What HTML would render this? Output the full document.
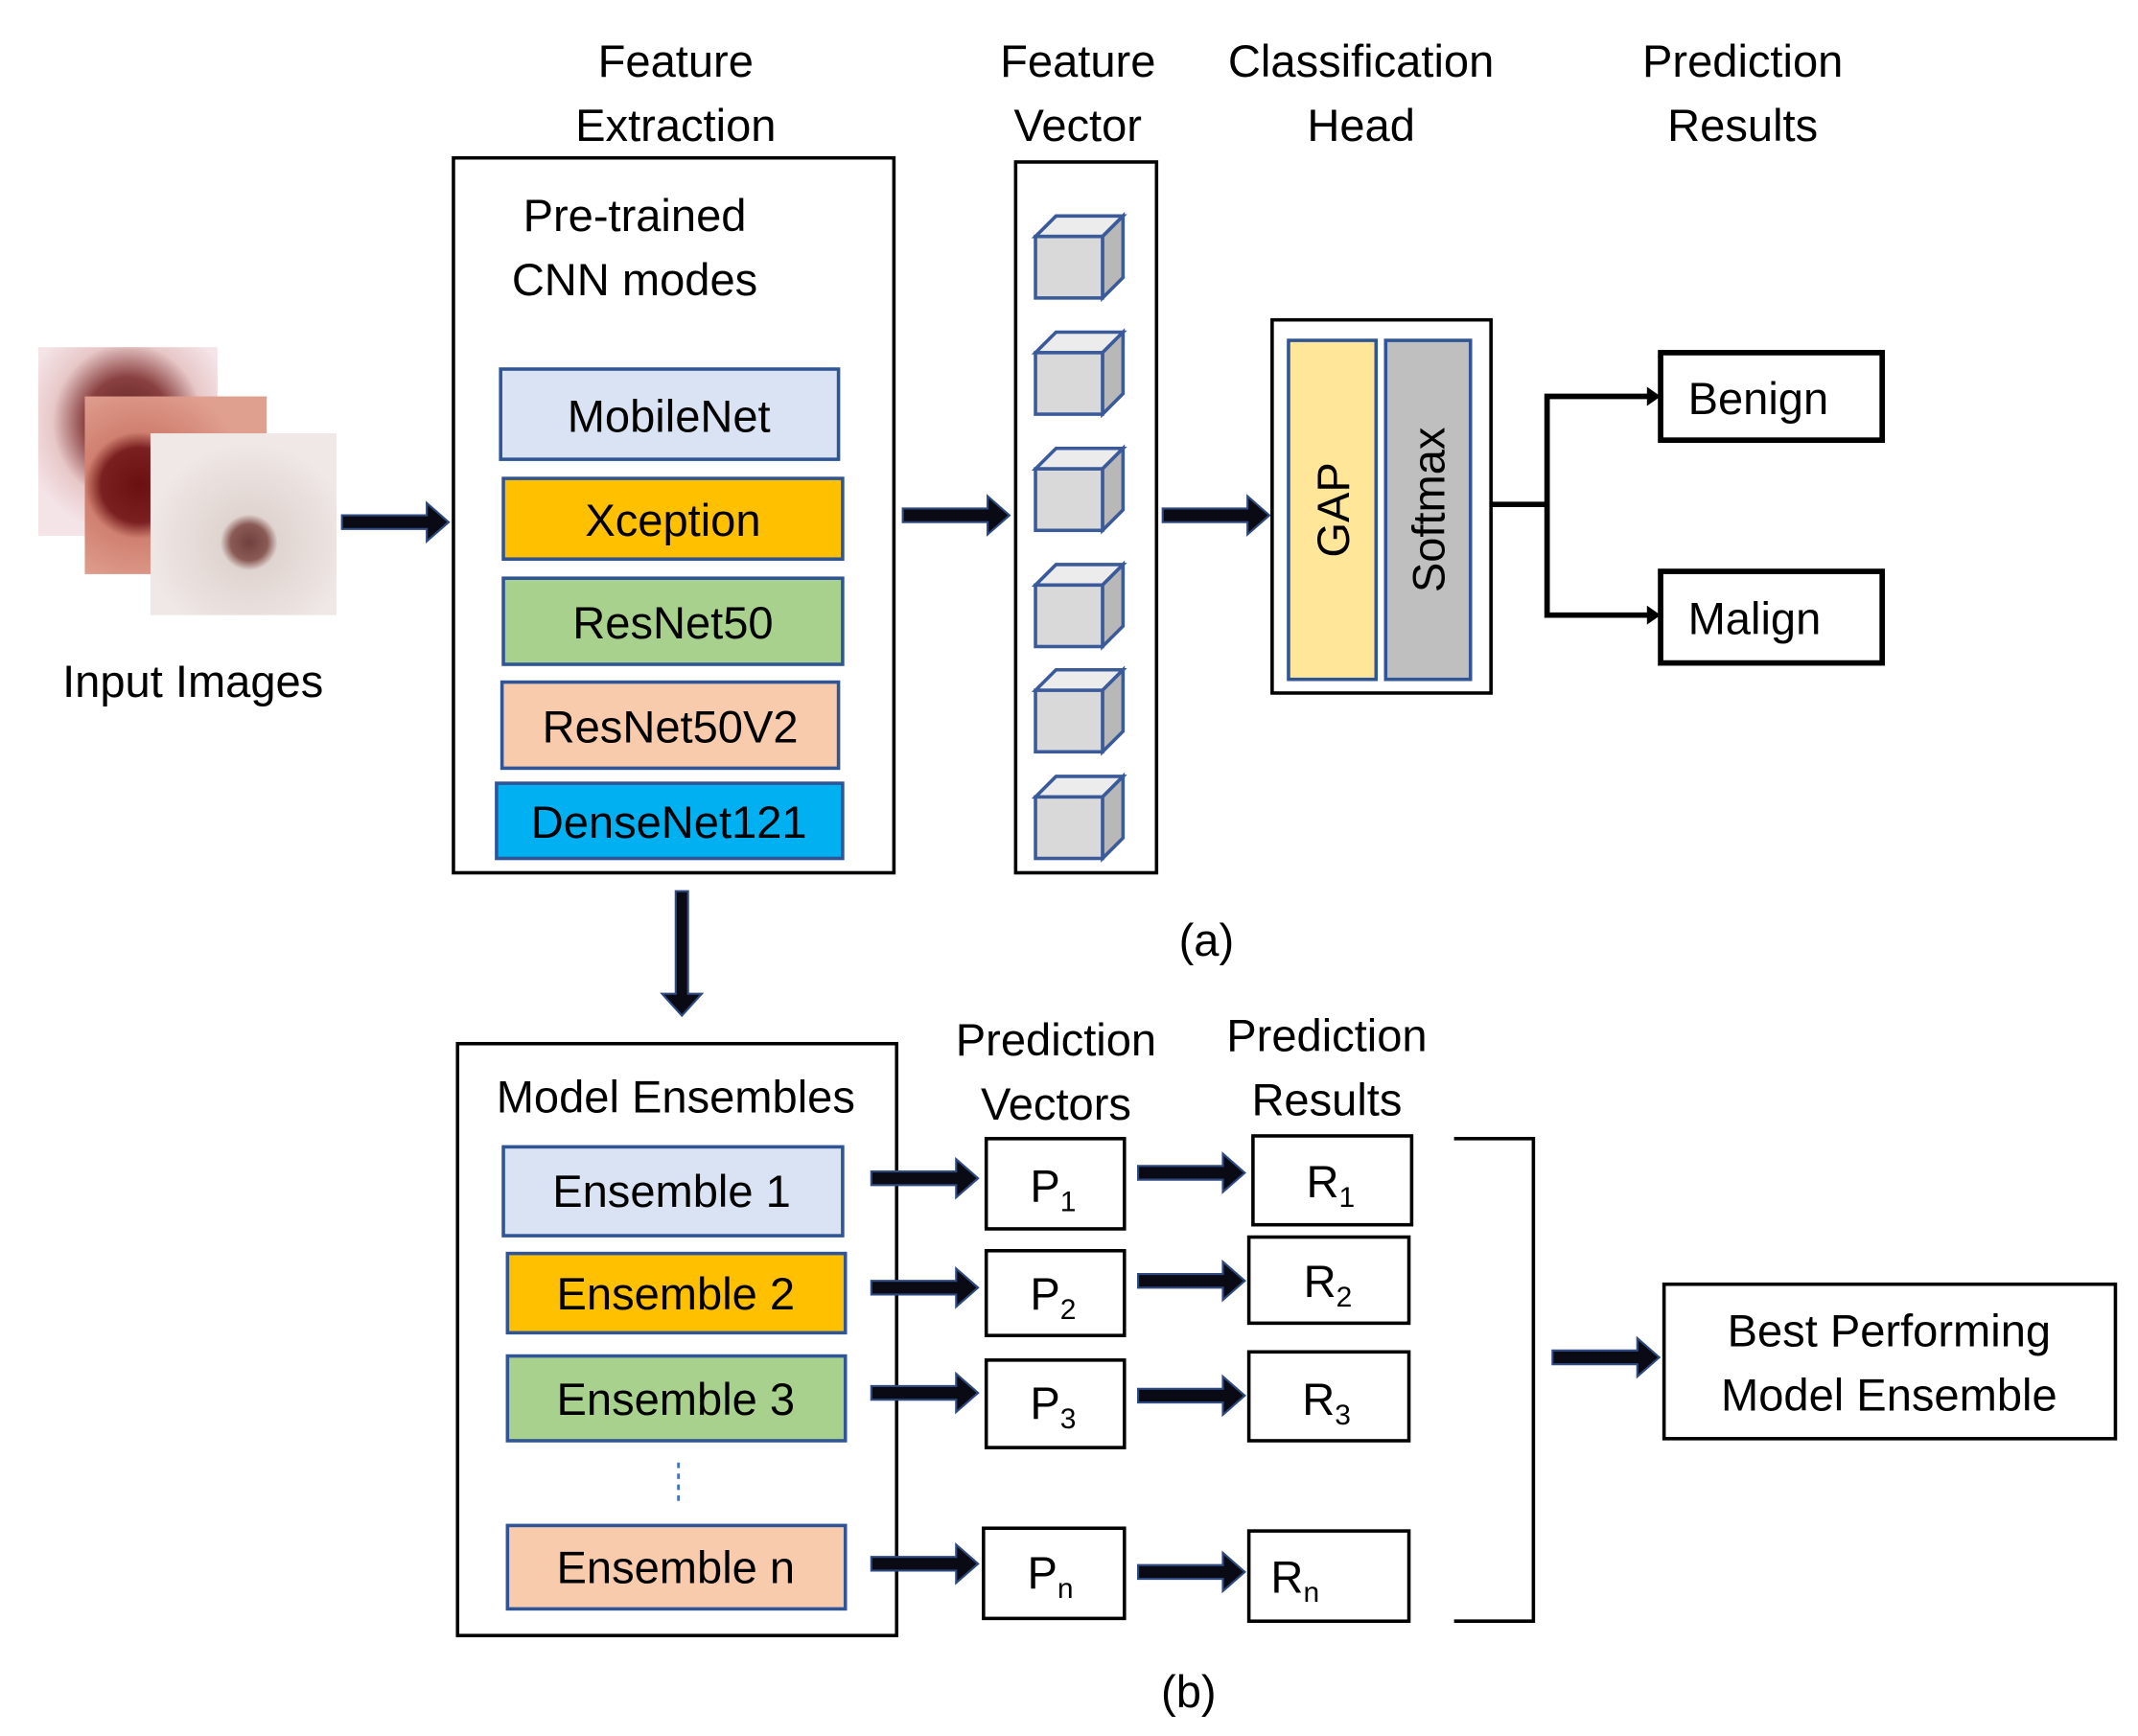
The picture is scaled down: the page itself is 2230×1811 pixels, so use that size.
<!DOCTYPE html>
<html><head><meta charset="utf-8"><style>html,body{margin:0;padding:0;background:#fff}svg{display:block}</style></head>
<body>
<svg width="2230" height="1811" viewBox="0 0 1563 1270" preserveAspectRatio="none" xmlns="http://www.w3.org/2000/svg" font-family="'Liberation Sans', sans-serif" font-size="33" fill="#000">
<defs>
<g id="arr"><polygon points="0,-5 62,-5 62,-14 78,0 62,14 62,5 0,5" fill="#0a0a14" stroke="#2f4a80" stroke-width="1.5"/></g>
<g id="cube"><polygon points="0,15 15,0 64,0 49,15" fill="#ececec" stroke="#3b5a9a" stroke-width="2.5"/><polygon points="49,15 64,0 64,45 49,60" fill="#b8b8b8" stroke="#3b5a9a" stroke-width="2.5"/><rect x="0" y="15" width="49" height="45" fill="#d9d9d9" stroke="#3b5a9a" stroke-width="2.5"/></g>
<radialGradient id="s1" cx="0.5" cy="0.4" r="0.6"><stop offset="0" stop-color="#5a2020"/><stop offset="0.4" stop-color="#8a4040"/><stop offset="0.7" stop-color="#e8c8c8"/><stop offset="1" stop-color="#f4e4e8"/></radialGradient>
<radialGradient id="s2" cx="0.3" cy="0.5" r="0.6"><stop offset="0" stop-color="#6a1010"/><stop offset="0.35" stop-color="#7a2020"/><stop offset="0.5" stop-color="#d08070"/><stop offset="1" stop-color="#e0a090"/></radialGradient>
<radialGradient id="s3" cx="0.53" cy="0.6" r="0.55"><stop offset="0" stop-color="#704040"/><stop offset="0.18" stop-color="#8a5a55"/><stop offset="0.28" stop-color="#e0d4d0"/><stop offset="1" stop-color="#efe8e6"/></radialGradient>
</defs>

<rect x="28" y="254" width="131" height="138" fill="url(#s1)"/>
<rect x="62" y="290" width="133" height="130" fill="url(#s2)"/>
<rect x="110" y="317" width="136" height="133" fill="url(#s3)"/>
<text x="141" y="510" text-anchor="middle">Input Images</text>
<use href="#arr" x="250" y="382"/>

<g text-anchor="middle">
<text x="494" y="56">Feature</text><text x="494" y="103">Extraction</text>
<text x="788" y="56">Feature</text><text x="788" y="103">Vector</text>
<text x="995" y="56">Classification</text><text x="995" y="103">Head</text>
<text x="1274" y="56">Prediction</text><text x="1274" y="103">Results</text>
</g>

<rect x="331.5" y="115.5" width="322" height="523" fill="none" stroke="#000" stroke-width="2.5"/>
<text x="464" y="169" text-anchor="middle">Pre-trained</text>
<text x="464" y="216" text-anchor="middle">CNN modes</text>
<g stroke="#2f5597" stroke-width="2.5">
<rect x="366" y="270" width="247" height="66" fill="#dae3f3"/>
<rect x="368" y="350" width="248" height="59" fill="#ffc000"/>
<rect x="368" y="423" width="248" height="63" fill="#a9d18e"/>
<rect x="367" y="499" width="246" height="63" fill="#f8cbad"/>
<rect x="363" y="573" width="253" height="55" fill="#00b0f0"/>
</g>
<g text-anchor="middle">
<text x="489" y="316">MobileNet</text>
<text x="492" y="392">Xception</text>
<text x="492" y="467">ResNet50</text>
<text x="490" y="543">ResNet50V2</text>
<text x="489" y="613">DenseNet121</text>
</g>
<use href="#arr" x="660" y="377"/>

<rect x="742.5" y="118.5" width="103" height="520" fill="none" stroke="#000" stroke-width="2.5"/>
<use href="#cube" x="757" y="158"/>
<use href="#cube" x="757" y="243"/>
<use href="#cube" x="757" y="328"/>
<use href="#cube" x="757" y="413"/>
<use href="#cube" x="757" y="490"/>
<use href="#cube" x="757" y="568"/>
<use href="#arr" x="850" y="377"/>

<rect x="930" y="234" width="160" height="273" fill="none" stroke="#000" stroke-width="2.5"/>
<rect x="942" y="249" width="64" height="248" fill="#ffe699" stroke="#2f5597" stroke-width="2.5"/>
<rect x="1013" y="249" width="62" height="248" fill="#bfbfbf" stroke="#2f5597" stroke-width="2.5"/>
<text transform="translate(986,373) rotate(-90)" text-anchor="middle">GAP</text>
<text transform="translate(1056,373) rotate(-90)" text-anchor="middle">Softmax</text>
<polyline points="1090,369 1131,369" fill="none" stroke="#000" stroke-width="4"/>
<polyline points="1206,290 1131,290 1131,450 1206,450" fill="none" stroke="#000" stroke-width="4"/>
<polygon points="1204,283 1214,290 1204,297" fill="#000"/>
<polygon points="1204,443 1214,450 1204,457" fill="#000"/>
<rect x="1214" y="258" width="162" height="64" fill="#fff" stroke="#000" stroke-width="4"/>
<rect x="1214" y="418" width="162" height="67" fill="#fff" stroke="#000" stroke-width="4"/>
<text x="1234" y="303">Benign</text>
<text x="1234" y="464">Malign</text>
<text x="882" y="699" text-anchor="middle">(a)</text>

<polygon points="494,652 503,652 503,727 513,727 498.5,743 484,727 494,727" fill="#0a0a14" stroke="#2f4a80" stroke-width="1.5"/>

<rect x="334.5" y="763.5" width="321" height="433" fill="none" stroke="#000" stroke-width="2.5"/>
<text x="494" y="814" text-anchor="middle">Model Ensembles</text>
<g stroke="#2f5597" stroke-width="2.5">
<rect x="368" y="839" width="248" height="65" fill="#dae3f3"/>
<rect x="371" y="917" width="247" height="58" fill="#ffc000"/>
<rect x="371" y="992" width="247" height="62" fill="#a9d18e"/>
<rect x="371" y="1116" width="247" height="61" fill="#f8cbad"/>
</g>
<line x1="496" y1="1070" x2="496" y2="1098" stroke="#4472c4" stroke-width="2" stroke-dasharray="4,4"/>
<g text-anchor="middle">
<text x="491" y="883">Ensemble 1</text>
<text x="494" y="958">Ensemble 2</text>
<text x="494" y="1035">Ensemble 3</text>
<text x="494" y="1158">Ensemble n</text>
</g>
<use href="#arr" x="637" y="862"/>
<use href="#arr" x="637" y="942"/>
<use href="#arr" x="637" y="1019"/>
<use href="#arr" x="637" y="1144"/>

<g text-anchor="middle">
<text x="772" y="772">Prediction</text><text x="772" y="819">Vectors</text>
<text x="970" y="769">Prediction</text><text x="970" y="816">Results</text>
</g>
<g fill="#fff" stroke="#000" stroke-width="2.5">
<rect x="721" y="833" width="101" height="66"/>
<rect x="721" y="915" width="101" height="62"/>
<rect x="721" y="995" width="101" height="64"/>
<rect x="719" y="1118" width="103" height="66"/>
<rect x="916" y="831" width="116" height="65"/>
<rect x="913" y="905" width="117" height="63"/>
<rect x="913" y="989" width="117" height="65"/>
<rect x="913" y="1120" width="117" height="66"/>
</g>
<g>
<text x="753" y="879">P<tspan font-size="21" dy="7">1</tspan></text>
<text x="753" y="958">P<tspan font-size="21" dy="7">2</tspan></text>
<text x="753" y="1038">P<tspan font-size="21" dy="7">3</tspan></text>
<text x="751" y="1162">P<tspan font-size="21" dy="7">n</tspan></text>
<text x="955" y="876">R<tspan font-size="21" dy="7">1</tspan></text>
<text x="953" y="949">R<tspan font-size="21" dy="7">2</tspan></text>
<text x="952" y="1035">R<tspan font-size="21" dy="7">3</tspan></text>
<text x="929" y="1165">R<tspan font-size="21" dy="7">n</tspan></text>
</g>
<use href="#arr" x="832" y="858"/>
<use href="#arr" x="832" y="937"/>
<use href="#arr" x="832" y="1021"/>
<use href="#arr" x="832" y="1150"/>

<polyline points="1063,833 1121,833 1121,1186 1063,1186" fill="none" stroke="#000" stroke-width="2.5"/>
<use href="#arr" x="1135" y="993"/>
<rect x="1216.5" y="939.5" width="330" height="113" fill="#fff" stroke="#000" stroke-width="2.5"/>
<text x="1381" y="985" text-anchor="middle">Best Performing</text>
<text x="1381" y="1032" text-anchor="middle">Model Ensemble</text>
<text x="869" y="1249" text-anchor="middle">(b)</text>
</svg>
</body></html>
